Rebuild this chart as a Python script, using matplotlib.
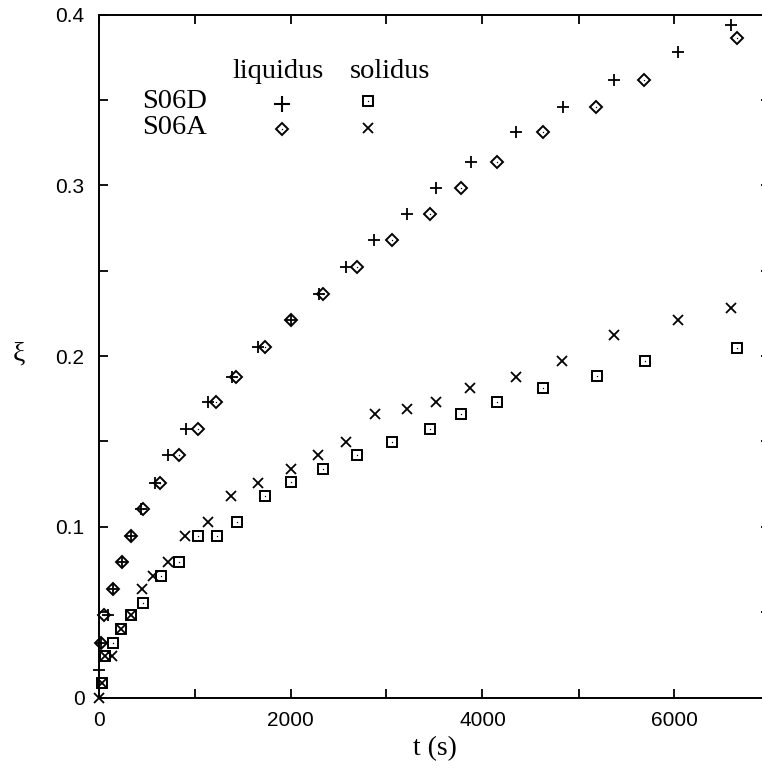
import matplotlib
matplotlib.use("Agg")
import matplotlib.pyplot as plt
from matplotlib.ticker import MultipleLocator, FuncFormatter

# S06D liquidus (+)
t_liq_d = [0, 25, 100, 150, 245, 340, 445, 590, 725, 910, 1140, 1390, 1660, 2005,
           2300, 2580, 2870, 3215, 3515, 3880, 4350, 4840, 5370, 6035, 6590]
xi_liq_d = [0.0161, 0.0319, 0.0483, 0.0635, 0.0794, 0.0946, 0.1104, 0.1256, 0.1420,
            0.1572, 0.1731, 0.1877, 0.2053, 0.2211, 0.2363, 0.2522, 0.2680, 0.2833,
            0.2986, 0.3138, 0.3309, 0.3461, 0.3619, 0.3783, 0.3939]

# S06A liquidus (diamond)
t_liq_a = [26, 57, 151, 245, 339, 464, 641, 839, 1036, 1224, 1432, 1734, 2005, 2339,
           2693, 3057, 3453, 3776, 4151, 4630, 5182, 5682, 6651]
xi_liq_a = [0.0319, 0.0483, 0.0635, 0.0794, 0.0946, 0.1104, 0.1256, 0.1420, 0.1572,
            0.1731, 0.1877, 0.2053, 0.2211, 0.2363, 0.2522, 0.2680, 0.2833, 0.2986,
            0.3138, 0.3309, 0.3461, 0.3619, 0.3865]

# S06D solidus (square)
t_sol_d = [36, 68, 151, 234, 339, 464, 651, 839, 1036, 1234, 1443, 1734, 2005, 2339,
           2693, 3057, 3453, 3776, 4151, 4630, 5193, 5693, 6651]
xi_sol_d = [0.0085, 0.0243, 0.0319, 0.0401, 0.0483, 0.0553, 0.0712, 0.0794, 0.0946,
            0.0946, 0.1025, 0.1183, 0.1265, 0.1341, 0.1420, 0.1494, 0.1572, 0.1660,
            0.1731, 0.1813, 0.1880, 0.1968, 0.2047]

# S06A solidus (x)
t_sol_a = [0, 36, 68, 141, 234, 339, 453, 568, 724, 901, 1141, 1380, 1661, 2005, 2286,
           2578, 2880, 3214, 3516, 3870, 4349, 4828, 5370, 6036, 6589]
xi_sol_a = [0.0, 0.0085, 0.0243, 0.0243, 0.0401, 0.0483, 0.0635, 0.0712, 0.0794,
            0.0946, 0.1025, 0.1183, 0.1259, 0.1341, 0.1420, 0.1494, 0.1660, 0.1690,
            0.1731, 0.1813, 0.1877, 0.1968, 0.2123, 0.2211, 0.2281]

W, H = 762, 773
fig = plt.figure(figsize=(W / 100, H / 100), dpi=100)
x0, x1 = 98.5, 770.5
y0, y1 = 697.5, 14.5
ax = fig.add_axes([x0 / W, 1 - y0 / H, (x1 - x0) / W, (y0 - y1) / H])

k = dict(color="black", linestyle="none", clip_on=False)
ax.plot(t_liq_d, xi_liq_d, marker="+", ms=9, mew=1.3, **k)
ax.plot(t_liq_a, xi_liq_a, marker="D", ms=6.2, mew=1.4, mfc="none", **k)
ax.plot(t_liq_a, xi_liq_a, marker="o", ms=1.0, mew=0, **k)
ax.plot(t_sol_d, xi_sol_d, marker="s", ms=7, mew=1.4, mfc="none", **k)
ax.plot(t_sol_d, xi_sol_d, marker="o", ms=1.0, mew=0, **k)
ax.plot(t_sol_a, xi_sol_a, marker="x", ms=7.5, mew=1.3, **k)

ax.set_xlim(0, 7000)
ax.set_ylim(0, 0.4)
ax.xaxis.set_major_locator(MultipleLocator(2000))
ax.xaxis.set_minor_locator(MultipleLocator(1000))
ax.yaxis.set_major_locator(MultipleLocator(0.1))
ax.yaxis.set_minor_locator(MultipleLocator(0.05))
ax.yaxis.set_major_formatter(FuncFormatter(lambda v, p: "0" if abs(v) < 1e-9 else f"{v:.1f}"))
for which in ("major", "minor"):
    ax.tick_params(which=which, direction="in", length=6.5, width=1.3,
                   top=True, right=True)
ax.tick_params(which="major", labelsize=15, pad=10)
for lab in ax.get_xticklabels() + ax.get_yticklabels():
    lab.set_family("Liberation Sans")
for s in ax.spines.values():
    s.set_linewidth(1.4)

ax.set_xlabel("t (s)", family="Liberation Serif", fontsize=20, labelpad=4)
fig.text(19 / W, 1 - 354 / H, "ξ", family="Liberation Serif", fontsize=20,
         ha="center", va="center")

# key
ft = dict(family="Liberation Serif", fontsize=20.5, transform=fig.transFigure, va="center")
fig.text(278 / W, 1 - 72 / H, "liquidus", ha="center", **ft)
fig.text(390 / W, 1 - 72 / H, "solidus", ha="center", **ft)
fig.text(142 / W, 1 - 102 / H, "S06D", ha="left", **ft)
fig.text(142 / W, 1 - 128 / H, "S06A", ha="left", **ft)
kt = dict(color="black", linestyle="none", transform=fig.transFigure, clip_on=False)
ax.plot([282 / W], [1 - 104 / H], marker="+", ms=11, mew=1.5, **kt)
ax.plot([368 / W], [1 - 101 / H], marker="s", ms=7, mew=1.4, mfc="none", **kt)
ax.plot([368 / W], [1 - 101 / H], marker="o", ms=1.0, mew=0, **kt)
ax.plot([282 / W], [1 - 129 / H], marker="D", ms=6.2, mew=1.4, mfc="none", **kt)
ax.plot([282 / W], [1 - 129 / H], marker="o", ms=1.0, mew=0, **kt)
ax.plot([368 / W], [1 - 128 / H], marker="x", ms=7.5, mew=1.3, **kt)

fig.savefig("out.png", dpi=100)
